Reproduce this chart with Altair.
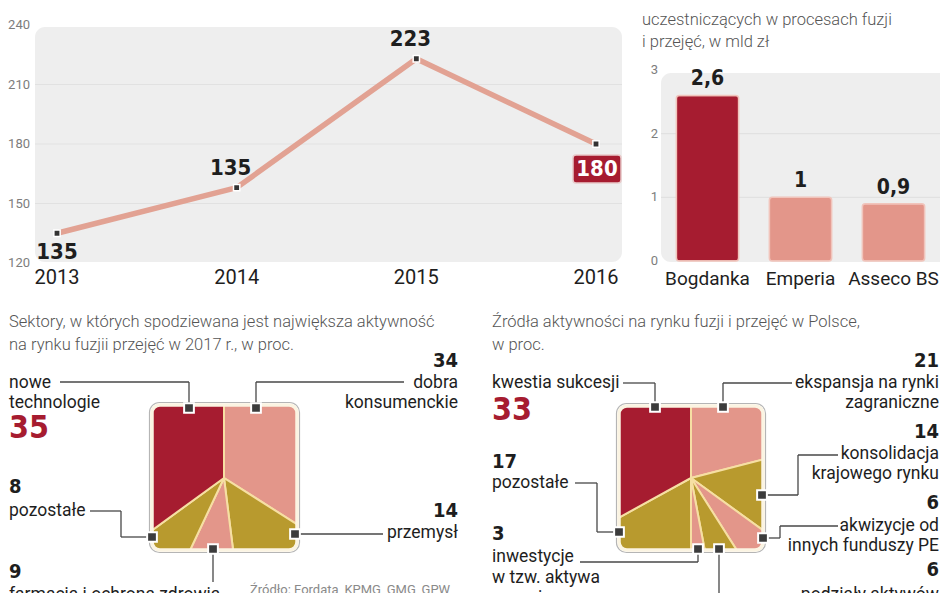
import altair as alt
import pandas as pd

# ---------------- data ----------------
YEARS = [2013, 2014, 2015, 2016]
DEALS = [135, 158, 223, 180]                 # plotted positions
DEAL_LABELS = ["135", "135", "223", "180"]   # printed labels (as in the original)
DEAL_TICKS = [120, 150, 180, 210, 240]

COMPANIES = ["Bogdanka", "Emperia", "Asseco BS"]
COMPANY_VALUES = [2.6, 1.0, 0.9]
COMPANY_LABELS = ["2,6", "1", "0,9"]
COMPANY_TICKS = [0, 1, 2, 3]

SECTORS = ["dobra\nkonsumenckie", "przemysł", "farmacja i ochrona zdrowia",
           "pozostałe", "nowe\ntechnologie"]
SECTOR_SHARES = [34, 14, 9, 8, 35]

DRIVERS = ["ekspansja na rynki\nzagraniczne", "konsolidacja\nkrajowego rynku",
           "akwizycje od\ninnych funduszy PE", "podziały aktywów",
           "inwestycje\nw tzw. aktywa\nzagrożone", "pozostałe", "kwestia sukcesji"]
DRIVER_SHARES = [21, 14, 6, 6, 3, 17, 33]

TITLE_LINE = ["Liczba fuzji i przejęć w Polsce"]
TITLE_BAR = ["Całkowita wartość firm z regionu,", "uczestniczących w procesach fuzji",
             "i przejęć, w mld zł"]
TITLE_SECTORS = ["Sektory, w których spodziewana jest największa aktywność",
                 "na rynku fuzjii przejęć w 2017 r., w proc."]
TITLE_DRIVERS = ["Źródła aktywności na rynku fuzji i przejęć w Polsce,", "w proc."]
SOURCE_NOTE = ["Źródło: Fordata, KPMG, GMG, GPW"]

# ---------------- styles & layout (page pixels) ----------------
OFF = 8
W, H = 932, 585
RIGHT_EDGE = 939


def p(v):
    return v - OFF


RED = "#a61c30"
SALMON = "#e3968a"
GOLD = "#b89a2e"
INK = "#1e1e1e"
TICK_COL = "#7d7d7d"
TITLE_COL = "#555555"
BG = "#eeeeee"
GRID = "#e1e1e1"
LINE_COL = "#e2a293"
NUM_FONT = "Liberation Sans Narrow, DejaVu Sans Condensed, Arial Narrow, Roboto Condensed, Roboto, sans-serif"
TXT_FONT = "Roboto, Open Sans, sans-serif"

SECTOR_COLORS = [SALMON, GOLD, SALMON, GOLD, RED]
DRIVER_COLORS = [SALMON, GOLD, SALMON, GOLD, SALMON, GOLD, RED]
BAR_COLORS = [RED, SALMON, SALMON]
LINE_LABEL_POS = ["below", "above", "above", "box"]

LINE_X_RANGE = [57, 596]
LINE_Y_RANGE = [263, 25]
BDX = -6                      # bar panel nudged left to stay inside the page
BAR_X_RANGE = [667 + BDX, 946 + BDX]
BAR_Y_RANGE = [261, 70]

PIE1_CENTER, PIE1_SQ = (224, 478), (152, 297, 405, 550)
PIE2_CENTER, PIE2_SQ = (691, 478), (619, 763, 406, 550)

SECTOR_LAYOUT = [
    dict(align="right", num=(458, 361), lab=(458, 383), marker=(256, 408),
         leader=[(256, 408), (256, 382), (404, 382)]),
    dict(align="right", num=(458, 511), lab=(458, 533), marker=(295, 534),
         leader=[(295, 534), (383, 534)]),
    dict(align="left", num=(9, 572), lab=(9, 595), marker=(213, 549),
         leader=[(213, 549), (213, 582)]),
    dict(align="left", num=(9, 487), lab=(9, 511), marker=(152, 537),
         leader=[(90, 511), (121, 511), (121, 537), (152, 537)]),
    dict(align="left", num=(9, 428), lab=(9, 383), marker=(189, 408), big=True,
         leader=[(60, 382), (189, 382), (189, 408)]),
]
DRIVER_LAYOUT = [
    dict(align="right", num=(RIGHT_EDGE, 361), lab=(RIGHT_EDGE, 383), marker=(723, 407),
         leader=[(723, 407), (723, 383), (792, 383)]),
    dict(align="right", num=(RIGHT_EDGE, 432), lab=(RIGHT_EDGE, 454), marker=(762, 495),
         leader=[(762, 495), (798, 495), (798, 455), (838, 455)]),
    dict(align="right", num=(RIGHT_EDGE, 503), lab=(RIGHT_EDGE, 526), marker=(763, 538),
         leader=[(763, 538), (780, 538), (780, 526), (838, 526)]),
    dict(align="right", num=(RIGHT_EDGE, 570), lab=(RIGHT_EDGE, 595), marker=(719, 549),
         leader=[(719, 549), (719, 600)]),
    dict(align="left", num=(492, 534), lab=(492, 557), marker=(698, 549), gap=20.5,
         leader=[(580, 562), (698, 562), (698, 549)]),
    dict(align="left", num=(492, 462), lab=(492, 483), marker=(619, 532),
         leader=[(575, 483), (597, 483), (597, 532), (619, 532)]),
    dict(align="left", num=(492, 410), lab=(492, 383), marker=(655, 407), big=True,
         leader=[(623, 383), (655, 383), (655, 407)]),
]


# ---------------- encodings ----------------
def PX(f="x"):
    return alt.X(f"{f}:Q", scale=None, axis=None)


def PY(f="y"):
    return alt.Y(f"{f}:Q", scale=None, axis=None)


def line_x(f="year"):
    return alt.X(f"{f}:Q", axis=None,
                 scale=alt.Scale(domain=[YEARS[0], YEARS[-1]],
                                 range=[p(v) for v in LINE_X_RANGE], nice=False, zero=False))


def line_y(f="value"):
    return alt.Y(f"{f}:Q", axis=None,
                 scale=alt.Scale(domain=[DEAL_TICKS[0], DEAL_TICKS[-1]],
                                 range=[p(v) for v in LINE_Y_RANGE], nice=False, zero=False))


def bar_x(f="company"):
    return alt.X(f"{f}:N", axis=None, sort=COMPANIES,
                 scale=alt.Scale(domain=COMPANIES, range=[p(v) for v in BAR_X_RANGE],
                                 paddingInner=0.33, paddingOuter=0.165))


def bar_y(f="value"):
    return alt.Y(f"{f}:Q", axis=None,
                 scale=alt.Scale(domain=[COMPANY_TICKS[0], COMPANY_TICKS[-1]],
                                 range=[p(v) for v in BAR_Y_RANGE], nice=False))


def text_layer(rows, font, weight, align):
    df = pd.DataFrame(rows, columns=["x", "y", "text", "size", "color"])
    df["x"] = df["x"] - OFF
    df["y"] = df["y"] - OFF
    return alt.Chart(df).mark_text(font=font, fontWeight=weight, align=align,
                                   baseline="middle", clip=True).encode(
        x=PX(), y=PY(), text="text:N",
        size=alt.Size("size:Q", scale=None, legend=None),
        color=alt.Color("color:N", scale=None, legend=None))


layers = []

# panel backgrounds
bg_df = pd.DataFrame({"x": [p(35), p(667 + BDX)], "x2": [p(622), p(952)],
                      "y": [p(27), p(73)], "y2": [p(262), p(262)]})
layers.append(alt.Chart(bg_df).mark_rect(color=BG, cornerRadius=10).encode(
    x=PX(), x2="x2:Q", y=PY(), y2="y2:Q"))

# gridlines
layers.append(alt.Chart(pd.DataFrame({"value": DEAL_TICKS[1:-1]})).mark_rule(
    color=GRID, strokeWidth=1.2).encode(y=line_y(), x=alt.value(p(35)), x2=alt.value(p(622))))
layers.append(alt.Chart(pd.DataFrame({"value": COMPANY_TICKS[1:-1]})).mark_rule(
    color=GRID, strokeWidth=1.2).encode(y=bar_y(), x=alt.value(p(667 + BDX)), x2=alt.value(p(948))))

# tick labels
layers.append(alt.Chart(pd.DataFrame({"value": DEAL_TICKS, "t": [str(v) for v in DEAL_TICKS]}))
              .mark_text(font=TXT_FONT, fontSize=13, color=TICK_COL, align="right", baseline="middle")
              .encode(y=line_y(), x=alt.value(p(30)), text="t:N"))
layers.append(alt.Chart(pd.DataFrame({"value": COMPANY_TICKS, "t": [str(v) for v in COMPANY_TICKS]}))
              .mark_text(font=TXT_FONT, fontSize=13, color=TICK_COL, align="right", baseline="middle")
              .encode(y=bar_y(), x=alt.value(p(664 + BDX)), text="t:N"))

# line chart
line_df = pd.DataFrame({"year": YEARS, "value": DEALS, "label": DEAL_LABELS,
                        "pos": LINE_LABEL_POS, "ytext": [str(y) for y in YEARS]})
layers.append(alt.Chart(line_df).mark_line(color=LINE_COL, strokeWidth=5.5, strokeCap="round",
                                           strokeJoin="round").encode(x=line_x(), y=line_y()))
layers.append(alt.Chart(line_df).mark_square(size=40, fill="#333333", stroke="white",
                                             strokeWidth=1.5, opacity=1).encode(x=line_x(), y=line_y()))
layers.append(alt.Chart(line_df[line_df.pos == "above"]).mark_text(
    font=NUM_FONT, fontWeight="bold", fontSize=22, color=INK, dx=-6, dy=-20, baseline="middle")
    .encode(x=line_x(), y=line_y(), text="label:N"))
layers.append(alt.Chart(line_df[line_df.pos == "below"]).mark_text(
    font=NUM_FONT, fontWeight="bold", fontSize=22, color=INK, dx=0, dy=19, baseline="middle")
    .encode(x=line_x(), y=line_y(), text="label:N"))
box_df = line_df[line_df.pos == "box"].copy()
box_df["year2"] = box_df["year"]
box_df["value2"] = box_df["value"]
layers.append(alt.Chart(box_df).mark_rect(color=RED, cornerRadius=3, stroke="#e9c9c9", strokeWidth=1.5,
                                          xOffset=-23, x2Offset=25, yOffset=11, y2Offset=39)
              .encode(x=line_x(), x2="year2:Q", y=line_y(), y2="value2:Q"))
layers.append(alt.Chart(box_df).mark_text(font=NUM_FONT, fontWeight="bold", fontSize=22, color="white",
                                          dy=25, dx=1, baseline="middle")
              .encode(x=line_x(), y=line_y(), text="label:N"))
layers.append(alt.Chart(line_df).mark_text(font=TXT_FONT, fontSize=20, color=INK, baseline="middle")
              .encode(x=line_x(), y=alt.value(p(278)), text="ytext:N"))

# bar chart
bar_df = pd.DataFrame({"company": COMPANIES, "value": COMPANY_VALUES,
                       "label": COMPANY_LABELS, "color": BAR_COLORS})
layers.append(alt.Chart(bar_df).mark_bar(cornerRadius=3, stroke="#f1c4bb", strokeWidth=1.5)
              .encode(x=bar_x(), y=bar_y(), color=alt.Color("color:N", scale=None, legend=None)))
layers.append(alt.Chart(bar_df).mark_text(font=NUM_FONT, fontWeight="bold", fontSize=21, color=INK,
                                          dy=-16, baseline="middle")
              .encode(x=bar_x(), y=bar_y(), text="label:N"))
layers.append(alt.Chart(bar_df).mark_text(font=TXT_FONT, fontSize=19, color=INK, baseline="middle")
              .encode(x=bar_x(), y=alt.value(p(279)), text="company:N"))


# square pies
def pie_layer(names, shares, colors, center):
    df = pd.DataFrame({"name": [n.replace("\n", " ") for n in names], "share": shares,
                       "color": colors, "idx": list(range(len(names)))})
    return alt.Chart(df).mark_arc(outerRadius=108, stroke="#f6dfa3", strokeWidth=2).encode(
        theta=alt.Theta("share:Q", stack=True),
        order=alt.Order("idx:Q"),
        color=alt.Color("color:N", scale=None, legend=None),
        x=alt.value(p(center[0])), y=alt.value(p(center[1])))


layers.append(pie_layer(SECTORS, SECTOR_SHARES, SECTOR_COLORS, PIE1_CENTER))
layers.append(pie_layer(DRIVERS, DRIVER_SHARES, DRIVER_COLORS, PIE2_CENTER))

MASK = 60
sq = [PIE1_SQ, PIE2_SQ]
mask_df = pd.DataFrame({"x": [p(s[0] - MASK / 2) for s in sq], "x2": [p(s[1] + MASK / 2) for s in sq],
                        "y": [p(s[2] - MASK / 2) for s in sq], "y2": [p(s[3] + MASK / 2) for s in sq]})
layers.append(alt.Chart(mask_df).mark_rect(filled=False, stroke="white", strokeWidth=MASK,
                                           cornerRadius=8 + MASK / 2)
              .encode(x=PX(), x2="x2:Q", y=PY(), y2="y2:Q"))
shadow_df = pd.DataFrame({"x": [p(s[0] - 2.5) for s in sq], "x2": [p(s[1] + 2.5) for s in sq],
                          "y": [p(s[2] - 2.5) for s in sq], "y2": [p(s[3] + 2.5) for s in sq]})
layers.append(alt.Chart(shadow_df).mark_rect(filled=False, stroke="#b5b5b5", strokeWidth=1.2, cornerRadius=10)
              .encode(x=PX(), x2="x2:Q", y=PY(), y2="y2:Q"))
frame_df = pd.DataFrame({"x": [p(s[0]) for s in sq], "x2": [p(s[1]) for s in sq],
                         "y": [p(s[2]) for s in sq], "y2": [p(s[3]) for s in sq]})
layers.append(alt.Chart(frame_df).mark_rect(filled=False, stroke="#fbf4e2", strokeWidth=3.5, cornerRadius=8)
              .encode(x=PX(), x2="x2:Q", y=PY(), y2="y2:Q"))

# leader lines and markers
seg_rows, mk_rows = [], []
for lay in SECTOR_LAYOUT + DRIVER_LAYOUT:
    pts = lay["leader"]
    for (x1, y1), (x2, y2) in zip(pts[:-1], pts[1:]):
        seg_rows.append({"x": p(x1), "y": p(y1), "x2": p(x2), "y2": p(y2)})
    mk_rows.append({"x": p(lay["marker"][0]), "y": p(lay["marker"][1])})
layers.append(alt.Chart(pd.DataFrame(seg_rows)).mark_rule(color="#474747", strokeWidth=1.3)
              .encode(x=PX(), x2="x2:Q", y=PY(), y2="y2:Q"))
layers.append(alt.Chart(pd.DataFrame(mk_rows)).mark_square(size=95, fill="#3c3c3c", stroke="white",
                                                           strokeWidth=2, opacity=1)
              .encode(x=PX(), y=PY()))

# texts
titles, lab_l, lab_r, num_l, num_r = [], [], [], [], []
for i, t in enumerate(TITLE_LINE):
    titles.append((8, -3 + 22 * i, t, 16.5, TITLE_COL))
for i, t in enumerate(TITLE_BAR):
    titles.append((648 + BDX, -2 + 22 * i, t, 16.5, TITLE_COL))
for i, t in enumerate(TITLE_SECTORS):
    titles.append((9, 322 + 23 * i, t, 16.5, TITLE_COL))
for i, t in enumerate(TITLE_DRIVERS):
    titles.append((492, 322 + 23 * i, t, 16.5, TITLE_COL))
src_rows = [(250, 590, SOURCE_NOTE[0], 13, "#8a8a8a")]

for names, shares, layout in [(SECTORS, SECTOR_SHARES, SECTOR_LAYOUT),
                              (DRIVERS, DRIVER_SHARES, DRIVER_LAYOUT)]:
    for name, share, lay in zip(names, shares, layout):
        gap = lay.get("gap", 19.5)
        target_lab = lab_l if lay["align"] == "left" else lab_r
        for k, line in enumerate(name.split("\n")):
            target_lab.append((lay["lab"][0], lay["lab"][1] + gap * k, line, 17.5, INK))
        target_num = num_l if lay["align"] == "left" else num_r
        if lay.get("big"):
            target_num.append((lay["num"][0], lay["num"][1], str(share), 32, RED))
        else:
            target_num.append((lay["num"][0], lay["num"][1], str(share), 20, INK))

layers.append(text_layer(titles, TXT_FONT, 300, "left"))
layers.append(text_layer(src_rows, TXT_FONT, 400, "left"))
layers.append(text_layer(lab_l, TXT_FONT, 400, "left"))
layers.append(text_layer(lab_r, TXT_FONT, 400, "right"))
layers.append(text_layer(num_l, NUM_FONT, "bold", "left"))
layers.append(text_layer(num_r, NUM_FONT, "bold", "right"))

chart = alt.layer(*layers).resolve_scale(
    x="independent", y="independent", color="independent", size="independent", theta="independent"
).properties(
    width=W, height=H, padding=0, background="white",
    autosize=alt.AutoSizeParams(type="none")
).configure_view(stroke=None)

chart.save("out.html", embed_options={"renderer": "svg", "actions": False})
